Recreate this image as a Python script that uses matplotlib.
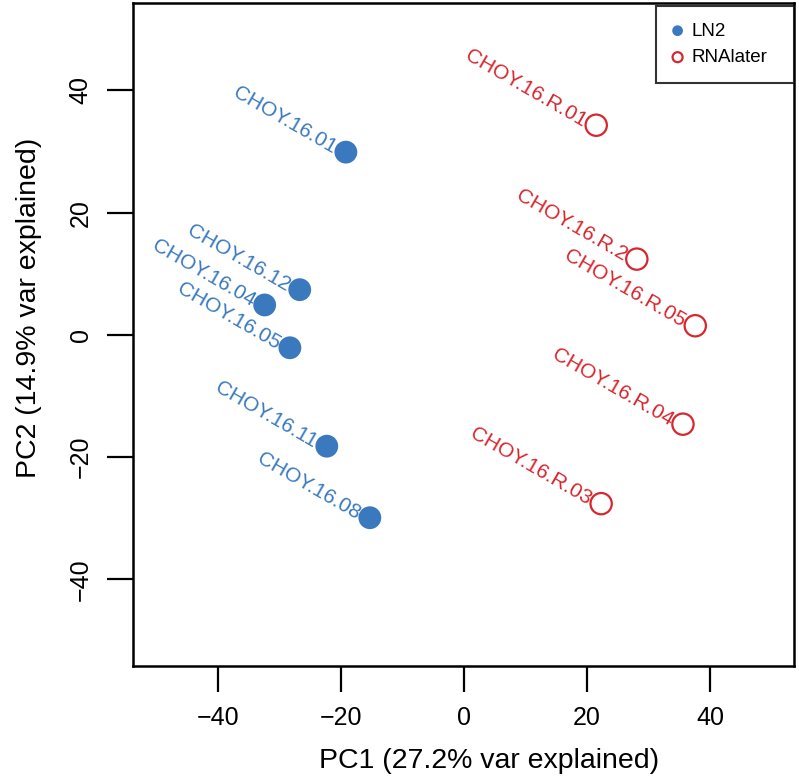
import matplotlib
matplotlib.use("Agg")
import matplotlib.pyplot as plt

plt.rcParams['font.family'] = ['Liberation Sans', 'DejaVu Sans']

# PCA coordinates
ln2_names = ["CHOY.16.01", "CHOY.16.12", "CHOY.16.04", "CHOY.16.05", "CHOY.16.11", "CHOY.16.08"]
ln2_pc1 = [-19.2, -26.7, -32.4, -28.3, -22.3, -15.3]
ln2_pc2 = [29.9, 7.4, 4.9, -2.1, -18.2, -29.9]

rna_names = ["CHOY.16.R.01", "CHOY.16.R.2", "CHOY.16.R.05", "CHOY.16.R.04", "CHOY.16.R.03"]
rna_pc1 = [21.5, 28.1, 37.6, 35.6, 22.3]
rna_pc2 = [34.3, 12.4, 1.5, -14.6, -27.6]

ticks = [-40, -20, 0, 20, 40]
tick_labels = ["\u221240", "\u221220", "0", "20", "40"]

blue = "#3A79BE"
red = "#D8262E"

fig = plt.figure(figsize=(7.99, 7.77), dpi=100)
ax = fig.add_axes([0.1665, 0.1429, 0.8273, 0.8533])

ax.scatter(ln2_pc1, ln2_pc2, s=270, color=blue, edgecolors='none', label="LN2", zorder=3)
ax.scatter(rna_pc1, rna_pc2, s=235, facecolors='none', edgecolors=red, linewidths=1.6,
           label="RNAlater", zorder=3)

#labels sit to the left of each point, slanted down
for n, x, y in zip(ln2_names, ln2_pc1, ln2_pc2):
    ax.annotate(n, (x, y), xytext=(-8, 2), textcoords='offset points', ha='right', va='center',
                rotation=-30, rotation_mode='anchor', color=blue, fontsize=15)
for n, x, y in zip(rna_names, rna_pc1, rna_pc2):
    ax.annotate(n, (x, y), xytext=(-8, 2), textcoords='offset points', ha='right', va='center',
                rotation=-30, rotation_mode='anchor', color=red, fontsize=15)

ax.set_xlim(-53.8, 53.66)
ax.set_ylim(-54.15, 54.3)
ax.set_xticks(ticks)
ax.set_yticks(ticks)
ax.set_xticklabels(tick_labels)
ax.set_yticklabels(tick_labels, rotation=90, va='center')
ax.tick_params(length=19, width=1.6, labelsize=18, pad=10)
for s in ax.spines.values():
    s.set_linewidth(1.8)

ax.set_xlabel("PC1 (27.2% var explained)", fontsize=20.5, va='center')
ax.set_ylabel("PC2 (14.9% var explained)", fontsize=20.5, va='center')
ax.xaxis.set_label_coords(0.539, -0.143)
ax.yaxis.set_label_coords(-0.157, 0.54)

#R style legend box, wider than its contents
leg = ax.legend(loc='upper right', bbox_to_anchor=(0.7912, 0, 0.2088, 0.996), mode='expand',
                fontsize=13.5, frameon=True, fancybox=False,
                borderaxespad=0, handletextpad=0.5, handlelength=0.5, markerscale=0.47,
                borderpad=0.9, labelspacing=0.5)
leg.get_frame().set_edgecolor('black')
leg.get_frame().set_linewidth(1.5)

fig.savefig("out.png", dpi=100)
